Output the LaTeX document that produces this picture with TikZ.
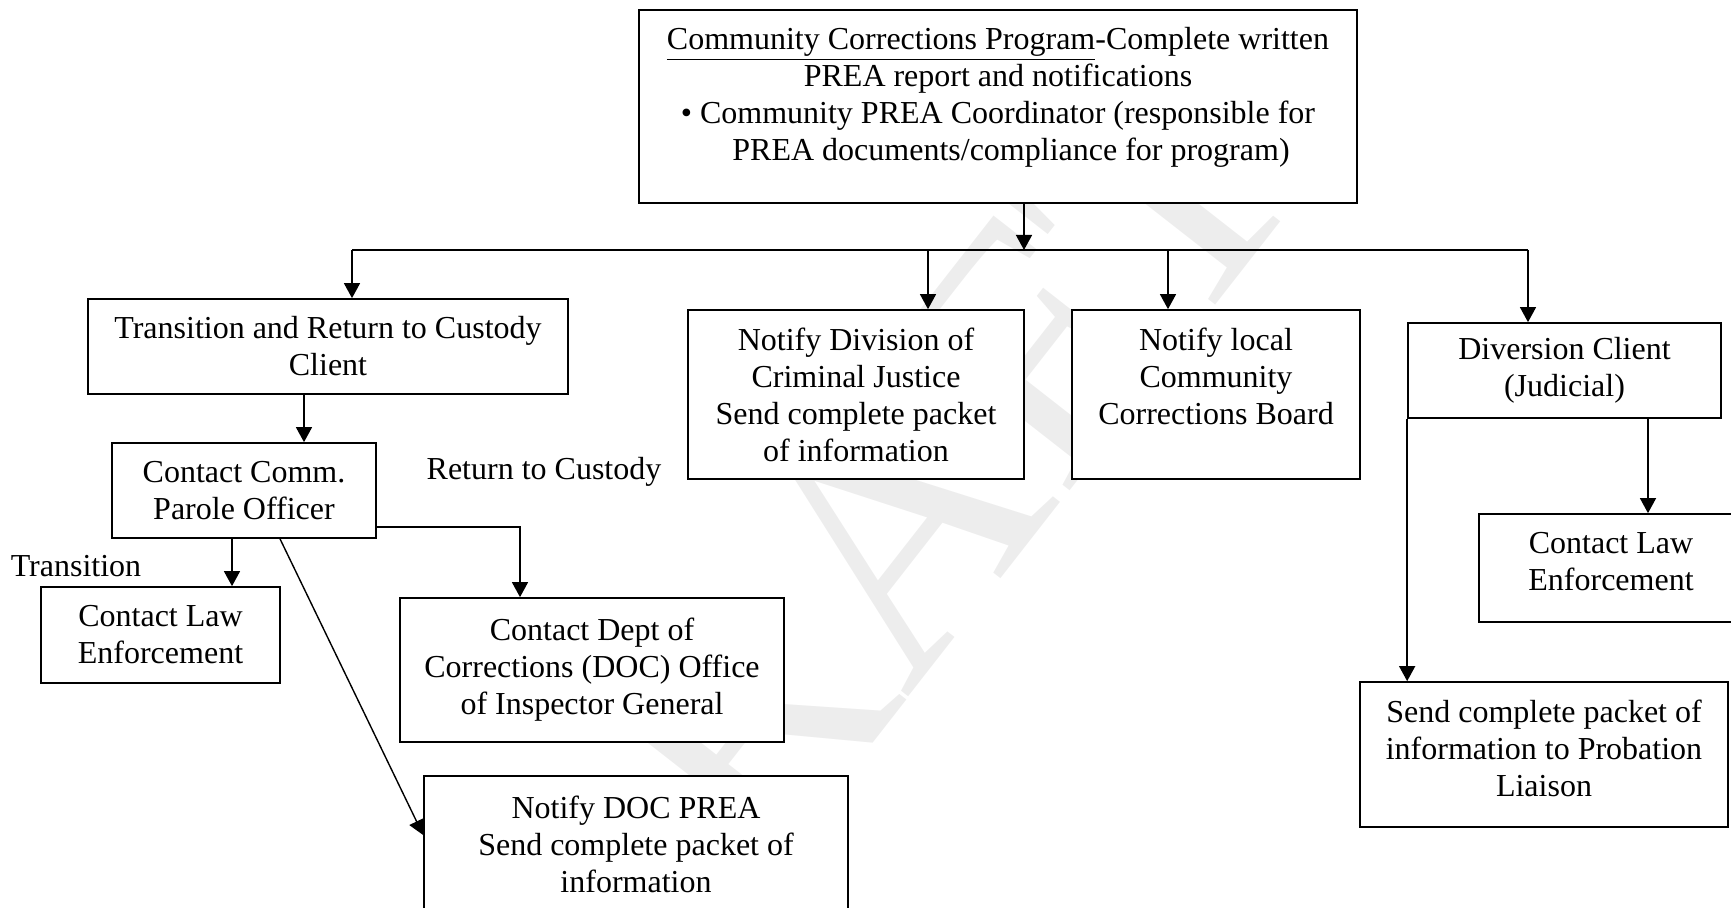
\documentclass[tikz,border=0pt]{standalone}
\usepackage{fontspec}
\setmainfont{Liberation Serif}
\usetikzlibrary{arrows.meta, positioning, calc}

\begin{document}
\begin{tikzpicture}[x=0.5pt, y=-0.5pt, font=\fontsize{16pt}{18.5pt}\selectfont,
    box/.style={draw=black, fill=white, line width=0.85pt, inner sep=0pt, align=center},
    arr/.style={-{Triangle[width=8pt,length=7.5pt]}, line width=0.7pt},
    wire/.style={line width=0.7pt}]
    \useasboundingbox (0,0) rectangle (1731,908);
    % watermark (behind the boxes)
    \node[rotate=52, text=gray!14, font=\fontsize{175pt}{175pt}\selectfont] (draft) at (870,560) {DRAFT};

    % boxes
    \node[box, minimum width=359pt, minimum height=96.5pt] (prog) at (998,106.5)
        {\underline{Community Corrections Program}-Complete written\\
         PREA report and notifications\\
         \textbullet{} Community PREA Coordinator (responsible for\\
         \hspace*{13pt}PREA documents/compliance for program)\\[-6pt]\mbox{}};
    \node[box, minimum width=240pt, minimum height=47.5pt] (trans) at (328,346.5)
        {Transition and Return to Custody\\Client};
    \node[box, minimum width=168pt, minimum height=84.5pt] (divn) at (856,394.5)
        {Notify Division of\\Criminal Justice\\Send complete packet\\of information};
    \node[box, minimum width=144pt, minimum height=84.5pt] (board) at (1216,394.5)
        {Notify local\\Community\\Corrections Board\\\mbox{}};
    \node[box, minimum width=156.5pt, minimum height=47.5pt] (divers) at (1564.5,370.5)
        {Diversion Client\\(Judicial)};
    \node[box, minimum width=132pt, minimum height=47.5pt] (comm) at (244,490.5)
        {Contact Comm.\\Parole Officer};
    \node[box, minimum width=119.5pt, minimum height=48pt] (lawL) at (160.5,635)
        {Contact Law\\Enforcement};
    \node[box, minimum width=192pt, minimum height=72pt] (doc) at (592,670)
        {Contact Dept of\\Corrections (DOC) Office\\of Inspector General};
    \node[box, minimum width=212pt, minimum height=68pt] (prea) at (636,844)
        {Notify DOC PREA\\Send complete packet of\\information};
    \node[box, minimum width=132pt, minimum height=54pt] (lawR) at (1611,568)
        {Contact Law\\Enforcement\\[-12pt]\mbox{}};
    \node[box, minimum width=184pt, minimum height=72.5pt] (prob) at (1544,754.5)
        {Send complete packet of\\information to Probation\\Liaison\\[-12pt]\mbox{}};

    % branch labels
    \node (lblRet) at (544,472) {Return to Custody};
    \node (lblTrans) at (76,566) {Transition};

    % top bus
    \coordinate (busL) at (352,250);
    \coordinate (busR) at (1528,250);
    \coordinate (busT) at (1024,250);
    \draw[arr] (busT |- prog.south) -- (busT);
    \draw[wire] (busL) -- (busR);
    \foreach \x/\n in {352/trans, 928/divn, 1168/board, 1528/divers} {
        \coordinate (drop\n) at (\x,250);
        \draw[arr] (drop\n) -- (drop\n |- \n.north);
    }

    % left branch
    \draw[arr] (trans.south -| 304,0) -- (comm.north -| 304,0);
    \draw[arr] (comm.south -| 232,0) -- (lawL.north -| 232,0);
    \draw[arr] ([yshift=6pt]comm.south east) -| (doc.north -| 520,0);
    \draw[arr] (comm.south -| 280,0) -- ([yshift=4.5pt]prea.west);

    % right branch
    \draw[arr] (divers.south -| 1648,0) -- (lawR.north -| 1648,0);
    \draw[arr] (divers.south west) -- (divers.south west |- prob.north);
\end{tikzpicture}
\end{document}
